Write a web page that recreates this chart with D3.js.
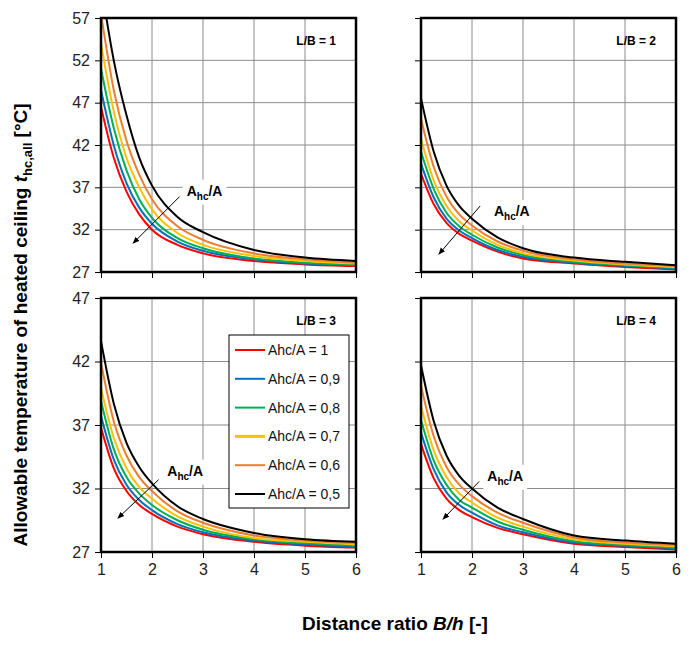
<!DOCTYPE html>
<html><head><meta charset="utf-8">
<script src="https://cdn.jsdelivr.net/npm/d3@7"></script>
<style>body{margin:0;background:#fff}text{font-family:Arial,"Liberation Sans",sans-serif}</style>
</head><body>
<script>
const xs = [1, 1.25, 1.5, 1.75, 2, 2.5, 3, 4, 5, 6];
const seriesNames = ["Ahc/A = 1", "Ahc/A = 0,9", "Ahc/A = 0,8", "Ahc/A = 0,7", "Ahc/A = 0,6", "Ahc/A = 0,5"];
const colors = ["#ff0000", "#0070c0", "#00b050", "#ffc000", "#ed7d31", "#000000"];
const panelTitles = ["L/B = 1", "L/B = 2", "L/B = 3", "L/B = 4"];
const yTicksTop = [27, 32, 37, 42, 47, 52, 57];
const yTicksBottom = [27, 32, 37, 42, 47];
const xTicks = [1, 2, 3, 4, 5, 6];

const lb1 = [
  [46.5, 40.5, 36.5, 33.8, 32.0, 30.2, 29.2, 28.3, 27.9, 27.7],
  [48.5, 42.0, 37.5, 34.6, 32.7, 30.6, 29.5, 28.5, 28.0, 27.8],
  [51.0, 44.0, 39.0, 35.6, 33.4, 31.0, 29.8, 28.6, 28.1, 27.9],
  [54.0, 46.0, 40.5, 37.0, 34.4, 31.6, 30.2, 28.9, 28.3, 28.0],
  [57.5, 48.5, 42.5, 38.5, 35.6, 32.4, 30.8, 29.2, 28.5, 28.1],
  [61.0, 52.0, 45.5, 40.5, 37.2, 33.5, 31.7, 29.6, 28.7, 28.3]
];
const lb2 = [
  [38.6, 35.0, 32.8, 31.5, 30.7, 29.4, 28.6, 28.0, 27.6, 27.3],
  [39.8, 35.8, 33.3, 31.9, 31.0, 29.6, 28.8, 28.1, 27.7, 27.4],
  [41.2, 36.8, 34.0, 32.4, 31.4, 29.9, 29.0, 28.2, 27.8, 27.5],
  [42.7, 37.8, 34.8, 33.0, 31.9, 30.2, 29.2, 28.35, 27.9, 27.6],
  [45.1, 39.4, 35.9, 33.8, 32.5, 30.6, 29.5, 28.5, 28.0, 27.7],
  [47.5, 41.2, 37.2, 34.8, 33.3, 31.1, 29.8, 28.7, 28.2, 27.8]
];
const lb3 = [
  [36.8, 33.6, 31.8, 30.7, 30.0, 29.0, 28.4, 27.8, 27.5, 27.35],
  [37.7, 34.3, 32.3, 31.1, 30.3, 29.2, 28.55, 27.9, 27.6, 27.45],
  [38.9, 35.1, 32.9, 31.6, 30.7, 29.5, 28.75, 28.0, 27.7, 27.5],
  [39.9, 36.0, 33.6, 32.1, 31.2, 29.8, 29.0, 28.1, 27.8, 27.6],
  [41.9, 37.3, 34.6, 32.9, 31.8, 30.2, 29.3, 28.3, 27.9, 27.7],
  [43.6, 38.7, 35.6, 33.7, 32.4, 30.6, 29.6, 28.5, 28.0, 27.8]
];
const lb4 = [
  [35.5, 32.8, 31.2, 30.3, 29.75, 28.9, 28.4, 27.65, 27.4, 27.2],
  [36.4, 33.5, 31.7, 30.7, 30.1, 29.1, 28.55, 27.75, 27.5, 27.3],
  [37.4, 34.2, 32.3, 31.1, 30.5, 29.4, 28.75, 27.85, 27.55, 27.35],
  [38.5, 35.0, 32.9, 31.6, 30.9, 29.7, 29.0, 28.0, 27.65, 27.45],
  [40.1, 36.1, 33.7, 32.3, 31.4, 30.1, 29.3, 28.15, 27.75, 27.55],
  [41.7, 37.3, 34.6, 33.0, 32.0, 30.5, 29.6, 28.3, 27.9, 27.65]
];
// arrow annotations: [x0, y0, x1, y1, labelX, labelY]
const arrows = [
  [2.54, 35.9, 1.63, 30.4, 2.68, 36.6],
  [2.16, 34.8, 1.35, 29.1, 2.43, 34.2],
  [2.13, 32.7, 1.33, 29.66, 2.3, 33.4],
  [2.14, 32.55, 1.43, 29.58, 2.3, 33.0]
];

const panels = [
  {data: lb1, x0: 101, y0: 18, yTicks: yTicksTop, showX: false},
  {data: lb2, x0: 421, y0: 18, yTicks: yTicksTop, showX: false},
  {data: lb3, x0: 101, y0: 298, yTicks: yTicksBottom, showX: true},
  {data: lb4, x0: 421, y0: 298, yTicks: yTicksBottom, showX: true}
];
const pw = 255, ph = 254;

const svg = d3.select("body").append("svg").attr("width", 690).attr("height", 648);
const defs = svg.append("defs");
defs.append("marker").attr("id", "arr").attr("viewBox", "0 0 10 10")
  .attr("refX", 9).attr("refY", 5).attr("markerWidth", 7).attr("markerHeight", 7)
  .attr("orient", "auto").append("path").attr("d", "M0,1 L10,5 L0,9 z").attr("fill", "#000");

panels.forEach(function (p, i) {
  const x = d3.scaleLinear().domain([1, 6]).range([0, pw]);
  const y = d3.scaleLinear().domain([p.yTicks[0], p.yTicks[p.yTicks.length - 1]]).range([ph, 0]);
  const g = svg.append("g").attr("transform", "translate(" + p.x0 + "," + p.y0 + ")");
  defs.append("clipPath").attr("id", "clip" + i).append("rect").attr("width", pw).attr("height", ph);

  g.append("g").selectAll("line").data(xTicks).join("line")
    .attr("x1", d => x(d)).attr("x2", d => x(d)).attr("y1", 0).attr("y2", ph)
    .attr("stroke", "#8c8c8c").attr("stroke-width", 1);
  g.append("g").selectAll("line").data(p.yTicks).join("line")
    .attr("x1", 0).attr("x2", pw).attr("y1", d => y(d)).attr("y2", d => y(d))
    .attr("stroke", "#8c8c8c").attr("stroke-width", 1);

  const line = d3.line().x((d, j) => x(xs[j])).y(d => y(d)).curve(d3.curveMonotoneX);
  g.append("g").attr("clip-path", "url(#clip" + i + ")")
    .selectAll("path").data(p.data).join("path")
    .attr("d", line).attr("fill", "none")
    .attr("stroke", (d, j) => colors[j]).attr("stroke-width", 2);

  const yAxis = g.append("g").call(d3.axisLeft(y).tickValues(p.yTicks).tickSize(6).tickFormat(p.x0 < 200 ? d3.format("d") : ""));
  yAxis.select(".domain").remove();
  yAxis.selectAll("text").attr("font-size", 16).attr("fill", "#222").attr("dx", "-2");
  const xAxis = g.append("g").attr("transform", "translate(0," + ph + ")")
    .call(d3.axisBottom(x).tickValues(xTicks).tickSize(6).tickFormat(p.showX ? d3.format("d") : ""));
  xAxis.select(".domain").remove();
  xAxis.selectAll("text").attr("font-size", 16).attr("fill", "#222").attr("dy", "0.9em");

  g.append("rect").attr("width", pw).attr("height", ph).attr("fill", "none")
    .attr("stroke", "#000").attr("stroke-width", 2.5);

  g.append("text").attr("x", pw - 20).attr("y", 27).attr("text-anchor", "end")
    .attr("font-size", 12).attr("font-weight", "bold").text(panelTitles[i]);

  const a = arrows[i];
  const ann = g.append("g");
  const bg = ann.append("rect").attr("fill", "#fff");
  const lbl = ann.append("text").attr("x", x(a[4])).attr("y", y(a[5]) + 5)
    .attr("font-size", 14).attr("font-weight", "bold");
  lbl.append("tspan").text("A");
  lbl.append("tspan").attr("font-size", 10).attr("dy", 4).text("hc");
  lbl.append("tspan").attr("dy", -4).text("/A");
  const bb = lbl.node().getBBox();
  bg.attr("x", bb.x - 4).attr("y", bb.y - 3).attr("width", bb.width + 8).attr("height", bb.height + 6);
  ann.append("line").attr("x1", x(a[0])).attr("y1", y(a[1])).attr("x2", x(a[2])).attr("y2", y(a[3]))
    .attr("stroke", "#000").attr("stroke-width", 1).attr("marker-end", "url(#arr)");

  if (i === 2) {
    const lg = g.append("g").attr("transform", "translate(128,37)");
    lg.append("rect").attr("width", 120).attr("height", 173).attr("fill", "#fff").attr("stroke", "#000");
    seriesNames.forEach(function (n, j) {
      const yy = 15 + j * 28.8;
      lg.append("line").attr("x1", 6).attr("x2", 36).attr("y1", yy).attr("y2", yy)
        .attr("stroke", colors[j]).attr("stroke-width", j === 3 ? 3 : 2);
      lg.append("text").attr("x", 39).attr("y", yy + 5).attr("font-size", 14).attr("fill", "#111").text(n);
    });
  }
});

const yt = svg.append("text").attr("transform", "translate(27,325) rotate(-90)")
  .attr("text-anchor", "middle").attr("font-size", 19).attr("font-weight", "bold");
yt.append("tspan").text("Allowable temperature of heated ceiling ");
yt.append("tspan").attr("font-style", "italic").text("t");
yt.append("tspan").attr("font-size", 13).attr("dy", 5).text("hc,all");
yt.append("tspan").attr("dy", -5).text(" [°C]");

const xt = svg.append("text").attr("x", 395).attr("y", 630).attr("text-anchor", "middle")
  .attr("font-size", 19).attr("font-weight", "bold");
xt.append("tspan").text("Distance ratio ");
xt.append("tspan").attr("font-style", "italic").text("B/h");
xt.append("tspan").text(" [-]");
</script>
</body></html>
